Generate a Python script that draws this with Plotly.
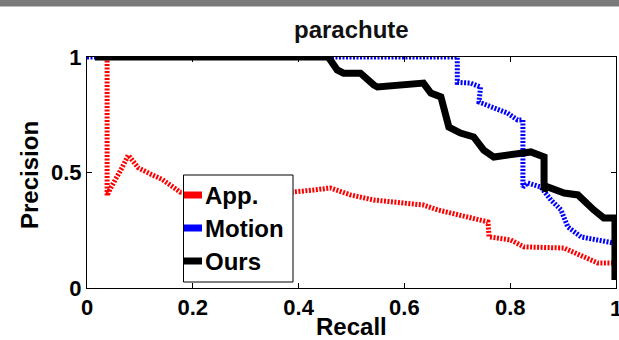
import plotly.graph_objects as go

# ---- data (recall, precision) ----
app_recall = [0.038, 0.038, 0.044, 0.055, 0.066, 0.078, 0.097, 0.123, 0.142, 0.161, 0.176,
              0.22, 0.28, 0.34, 0.398, 0.428, 0.46, 0.498, 0.542, 0.587, 0.636, 0.663,
              0.688, 0.72, 0.758, 0.76, 0.801, 0.826, 0.871, 0.902, 0.94, 0.966, 0.995]
app_precision = [1.0, 0.40, 0.43, 0.47, 0.52, 0.575, 0.52, 0.49, 0.47, 0.44, 0.415,
                 0.41, 0.40, 0.405, 0.415, 0.424, 0.433, 0.403, 0.381, 0.368, 0.359, 0.338,
                 0.325, 0.307, 0.286, 0.221, 0.208, 0.178, 0.178, 0.173, 0.134, 0.108, 0.108]

motion_recall = [0.0, 0.70, 0.70, 0.725, 0.744, 0.741, 0.769, 0.795, 0.814, 0.824, 0.824,
                 0.833, 0.858, 0.877, 0.896, 0.909, 0.934, 0.966, 0.995]
motion_precision = [1.0, 1.0, 0.89, 0.887, 0.87, 0.805, 0.78, 0.757, 0.727, 0.727, 0.437,
                    0.455, 0.437, 0.381, 0.338, 0.264, 0.221, 0.208, 0.195]

ours_recall = [0.015, 0.455, 0.46, 0.473, 0.485, 0.517, 0.542, 0.549, 0.636, 0.65, 0.669,
               0.678, 0.684, 0.706, 0.731, 0.75, 0.769, 0.839, 0.864, 0.864, 0.871, 0.902,
               0.928, 0.958, 0.977, 0.998, 0.998]
ours_precision = [1.0, 1.0, 0.987, 0.944, 0.93, 0.93, 0.879, 0.87, 0.887, 0.844, 0.827,
                  0.762, 0.697, 0.671, 0.654, 0.597, 0.567, 0.589, 0.567, 0.424, 0.437, 0.411,
                  0.403, 0.338, 0.303, 0.303, 0.035]

series_names = ["App.", "Motion", "Ours"]
series_colors = ["#ff0000", "#0000ff", "#000000"]
tick_vals_x = [0, 0.2, 0.4, 0.6, 0.8, 1]
tick_text_x = ["0", "0.2", "0.4", "0.6", "0.8", "1"]
tick_vals_y = [0, 0.5, 1]
tick_text_y = ["0", "0.5", "1"]

FONT = "Liberation Sans, Arial, Helvetica, sans-serif"

fig = go.Figure()
fig.add_trace(go.Scatter(x=app_recall, y=app_precision, mode="lines", name=series_names[0],
                         line=dict(color=series_colors[0], width=5, dash="2px,1.5px")))
fig.add_trace(go.Scatter(x=motion_recall, y=motion_precision, mode="lines", name=series_names[1],
                         line=dict(color=series_colors[1], width=5, dash="2px,1.5px")))
fig.add_trace(go.Scatter(x=ours_recall, y=ours_precision, mode="lines", name=series_names[2],
                         line=dict(color=series_colors[2], width=7)))

W, H = 619, 340
L, R, T, B = 87, 3, 57, 52
pw, ph = W - L - R, H - T - B

def px(x):
    return (x - L) / pw

def py(y):
    return (H - B - y) / ph

shapes = []
annotations = []
# gray strip at the top of the image
shapes.append(dict(type="rect", xref="paper", yref="paper", x0=px(0), x1=px(W), y0=py(6.5), y1=py(0),
                   fillcolor="#7a7a7a", line=dict(width=0), layer="above"))
# custom legend box
shapes.append(dict(type="rect", xref="paper", yref="paper", x0=px(183.5), x1=px(293), y0=py(282), y1=py(175),
                   fillcolor="white", line=dict(color="black", width=1), layer="above"))
leg_y = [195, 228, 261]
for name, col, yy in zip(series_names, series_colors, leg_y):
    shapes.append(dict(type="line", xref="paper", yref="paper", x0=px(184), x1=px(202), y0=py(yy), y1=py(yy),
                       line=dict(color=col, width=7), layer="above"))
    annotations.append(dict(text=name, xref="paper", yref="paper", x=px(203), y=py(yy), xanchor="left",
                            yanchor="middle", showarrow=False,
                            font=dict(family=FONT, size=24, color="black", weight="bold")))

annotations.append(dict(text="Precision", xref="paper", yref="paper", x=px(29), y=py(175), textangle=-90,
                        xanchor="center", yanchor="middle", showarrow=False,
                        font=dict(family=FONT, size=24, color="black", weight="bold")))
annotations.append(dict(text="Recall", xref="paper", yref="paper", x=px(351), y=py(326), xanchor="center",
                        yanchor="middle", showarrow=False,
                        font=dict(family=FONT, size=24, color="black", weight="bold")))
annotations.append(dict(text="parachute", xref="paper", yref="paper", x=px(351), y=py(29), xanchor="center",
                        yanchor="middle", showarrow=False,
                        font=dict(family=FONT, size=24, color="#111111", weight="bold")))
# last x tick label sits on the right edge of the image (plotly drops it), so place it directly
annotations.append(dict(text=tick_text_x[-1], xref="x", yref="paper", x=tick_vals_x[-1], y=py(308),
                        xanchor="center", yanchor="middle", showarrow=False,
                        font=dict(family=FONT, size=22, color="black", weight="bold")))

axis_common = dict(showgrid=False, zeroline=False, showline=True, linecolor="black", linewidth=1,
                   mirror="ticks", ticks="inside", ticklen=5, tickcolor="black", range=[0, 1],
                   tickfont=dict(family=FONT, size=22, color="black", weight="bold"))

fig.update_layout(
    width=W, height=H, margin=dict(l=L, r=R, t=T, b=B),
    paper_bgcolor="white", plot_bgcolor="white", showlegend=False,
    xaxis=dict(**axis_common, tickvals=tick_vals_x, ticktext=tick_text_x),
    yaxis=dict(**axis_common, tickvals=tick_vals_y, ticktext=tick_text_y),
    shapes=shapes, annotations=annotations,
)

fig.write_html("out.html")
